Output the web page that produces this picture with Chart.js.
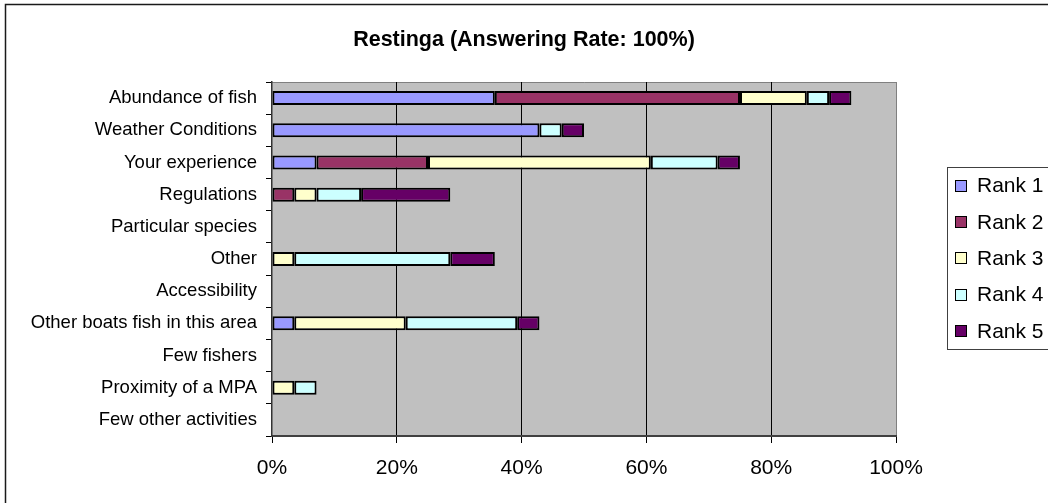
<!DOCTYPE html>
<html>
<head>
<meta charset="utf-8">
<script src="https://cdn.jsdelivr.net/npm/chart.js@4/dist/chart.umd.min.js"></script>
<style>
  html, body { margin: 0; padding: 0; background: #fff; }
  #wrap { width: 1048px; height: 503px; position: relative; }
</style>
</head>
<body>
<div id="wrap"><canvas id="c" width="1048" height="503"></canvas></div>
<script>
const categories = [
  'Abundance of fish', 'Weather Conditions', 'Your experience', 'Regulations',
  'Particular species', 'Other', 'Accessibility', 'Other boats fish in this area',
  'Few fishers', 'Proximity of a MPA', 'Few other activities'
];
const seriesNames = ['Rank 1', 'Rank 2', 'Rank 3', 'Rank 4', 'Rank 5'];
const rank1 = [35.71, 42.86, 7.14, 0, 0, 0, 0, 3.57, 0, 0, 0];
const rank2 = [39.29, 0, 17.86, 3.57, 0, 0, 0, 0, 0, 0, 0];
const rank3 = [10.71, 0, 35.71, 3.57, 0, 3.57, 0, 17.86, 0, 3.57, 0];
const rank4 = [3.57, 3.57, 10.71, 7.14, 0, 25.00, 0, 17.86, 0, 3.57, 0];
const rank5 = [3.57, 3.57, 3.57, 14.29, 0, 7.14, 0, 3.57, 0, 0, 0];
const tickValues = [0, 20, 40, 60, 80, 100];
const titleText = 'Restinga (Answering Rate: 100%)';

const colors = ['#9999FF', '#993366', '#FFFFCC', '#CCFFFF', '#660066'];
const allSeries = [rank1, rank2, rank3, rank4, rank5];
const FONT = "'Liberation Sans', Arial, Helvetica, sans-serif";

const datasets = allSeries.map((vals, i) => ({
  label: seriesNames[i],
  data: vals.map(v => v === 0 ? null : v),
  backgroundColor: colors[i],
  borderColor: '#000000',
  borderWidth: 2,
  borderSkipped: false,
  barThickness: 14,
  inflateAmount: 0
}));

const framePlugin = {
  id: 'frame',
  beforeDraw(chart) {
    const ctx = chart.ctx;
    const a = chart.chartArea;
    ctx.save();
    ctx.fillStyle = '#ffffff';
    ctx.fillRect(0, 0, chart.width, chart.height);
    // outer chart border
    ctx.strokeStyle = '#1a1a1a';
    ctx.lineWidth = 1.5;
    ctx.beginPath();
    ctx.moveTo(5.5, chart.height + 2);
    ctx.lineTo(5.5, 4.5);
    ctx.lineTo(chart.width + 2, 4.5);
    ctx.stroke();
    // plot background
    ctx.fillStyle = '#C0C0C0';
    ctx.fillRect(a.left, a.top, a.right - a.left, a.bottom - a.top);
    ctx.strokeStyle = '#808080';
    ctx.lineWidth = 1;
    ctx.beginPath();
    ctx.moveTo(a.left, a.top + 0.5);
    ctx.lineTo(a.right + 0.5, a.top + 0.5);
    ctx.lineTo(a.right + 0.5, a.bottom);
    ctx.stroke();
    ctx.restore();
  },
  afterDraw(chart) {
    const ctx = chart.ctx;
    ctx.save();
    // title
    ctx.fillStyle = '#000';
    ctx.font = 'bold 21.5px ' + FONT;
    ctx.textAlign = 'center';
    ctx.textBaseline = 'middle';
    ctx.fillText(titleText, 524, 40);
    // legend box
    const lx = 947.5, ly = 167.5, lw = 140, lh = 182;
    ctx.fillStyle = '#ffffff';
    ctx.fillRect(lx, ly, lw, lh);
    ctx.strokeStyle = '#404040';
    ctx.lineWidth = 1;
    ctx.strokeRect(lx, ly, lw, lh);
    ctx.font = '21px ' + FONT;
    ctx.textBaseline = 'middle';
    ctx.textAlign = 'left';
    chart.data.datasets.forEach((ds, i) => {
      const cy = 185.7 + i * 36.3;
      ctx.fillStyle = ds.backgroundColor;
      ctx.fillRect(955, Math.round(cy - 6), 12, 12);
      ctx.strokeStyle = '#000';
      ctx.lineWidth = 1;
      ctx.strokeRect(955.5, Math.round(cy - 6) + 0.5, 11, 11);
      ctx.fillStyle = '#000';
      ctx.fillText(ds.label, 977, cy + 1);
    });
    ctx.restore();
  }
};

new Chart(document.getElementById('c'), {
  type: 'bar',
  data: { labels: categories, datasets },
  options: {
    indexAxis: 'y',
    responsive: false,
    animation: false,
    layout: { padding: { left: 0, right: 152, top: 82, bottom: 0 } },
    plugins: {
      legend: { display: false },
      tooltip: { enabled: false },
      title: { display: false }
    },
    scales: {
      x: {
        stacked: true,
        min: 0,
        max: 100,
        afterBuildTicks(scale) { scale.ticks = tickValues.map(v => ({ value: v })); },
        afterFit(scale) { scale.height = 67; },
        ticks: {
          color: '#000',
          font: { family: FONT, size: 21 },
          padding: 13,
          callback: v => v + '%'
        },
        grid: {
          color: ctx => (ctx.tick && ctx.tick.value === 100) ? '#808080' : (ctx.tick && ctx.tick.value === 0 ? 'rgba(0,0,0,0)' : '#000000'),
          tickColor: '#000000',
          tickLength: 7,
          lineWidth: 1
        },
        border: { display: true, color: '#404040', width: 2 }
      },
      y: {
        stacked: true,
        afterFit(scale) { scale.width = 272; },
        ticks: {
          color: '#000',
          font: { family: FONT, size: 18.5 },
          padding: 9
        },
        grid: {
          drawOnChartArea: false,
          drawTicks: true,
          tickLength: 6,
          tickColor: '#000000',
          offset: true
        },
        border: { display: true, color: '#333333', width: 1.5 }
      }
    }
  },
  plugins: [framePlugin]
});
</script>
</body>
</html>
